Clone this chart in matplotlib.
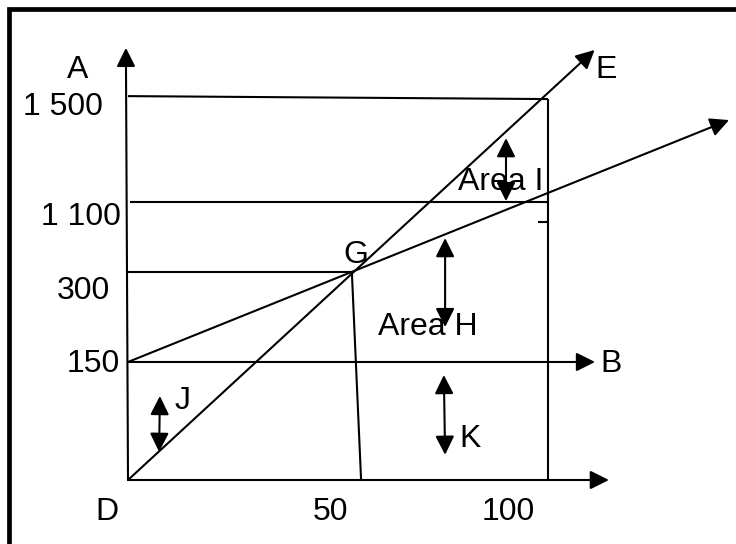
import matplotlib
matplotlib.use("Agg")
import matplotlib.pyplot as plt

# Schematic break-even chart (units are arbitrary drawing units)
plt.rcParams["font.family"] = ["Liberation Sans", "DejaVu Sans"]

# levels on the vertical axis
level_labels = ["1 500", "1 100", "300", "150"]
level_y = [91.4, 66.2, 49.5, 28.1]

# quantities on the horizontal axis
qty_labels = ["D", "50", "100"]
qty_x = [-5.0, 48.1, 90.5]

# break-even point G
g_x, g_y = 53.3, 49.5
g_foot_x = 55.5

# capacity limit
cap_x = 100
cap_top = 90.7

# revenue line (D -> E) and total cost line (150 -> G -> ...)
revenue_x = [0, 111.1]
revenue_y = [0, 102.4]
cost_x = [0, 143.1]
cost_y = [28.1, 85.7]

x_axis_end = 114.5
y_axis_top = 102.9
fixed_end = 111.2

# double arrows: (x_top, y_top, x_bottom, y_bottom)
double_arrows = {
    "I": (90.0, 81.4, 90.0, 66.4),
    "H": (75.5, 57.6, 75.5, 36.4),
    "K": (75.2, 25.0, 75.5, 6.0),
    "J": (7.6, 20.0, 7.4, 6.7),
}

# free labels
labels = {
    "A": (-11.9, 95.7),
    "E": (113.8, 95.7),
    "B": (115.0, 25.7),
    "G": (54.3, 51.7),
    "Area I": (88.8, 69.0),
    "Area H": (71.4, 34.5),
    "J": (13.1, 16.9),
    "K": (81.4, 7.9),
}
level_label_x = [-15.5, -11.2, -10.5, -8.3]
level_label_y = [86.9, 60.7, 43.1, 25.7]

fig = plt.figure(figsize=(7.36, 5.44), dpi=100)
ax = fig.add_axes([0, 0, 1, 1])
ax.set_xlim(-30.476, 144.762)
ax.set_ylim(-15.238, 114.286)
ax.axis("off")

lw = 1.5
fs = 23
kw = dict(color="black", lw=lw, solid_capstyle="butt")


def arrow(x0, y0, x1, y1, style="-|>"):
    ax.annotate("", xy=(x1, y1), xytext=(x0, y0),
                arrowprops=dict(arrowstyle=style + ",head_length=0.6,head_width=0.3",
                                mutation_scale=19, color="black", lw=lw,
                                shrinkA=0, shrinkB=0))


# frame (only top and left edges visible)
ax.plot([0.0122, 0.0122, 1.0], [0.0, 0.9835, 0.9835], transform=ax.transAxes,
        color="black", lw=3.4, clip_on=False, solid_joinstyle="miter")

# axes
arrow(0, 0, -0.5, y_axis_top)
arrow(0, 0, x_axis_end, 0)

# horizontal levels
ax.plot([0, cap_x], [level_y[0], cap_top], **kw)
ax.plot([0.5, cap_x], [level_y[1], level_y[1]], **kw)
ax.plot([0, g_x], [level_y[2], level_y[2]], **kw)
arrow(0, level_y[3], fixed_end, level_y[3])

# capacity vertical and small tick
ax.plot([cap_x, cap_x], [cap_top, 0], **kw)
ax.plot([97.6, cap_x], [61.4, 61.4], **kw)

# drop from G
ax.plot([g_x, g_foot_x], [g_y, 0], **kw)

# revenue and cost lines
arrow(revenue_x[0], revenue_y[0], revenue_x[1], revenue_y[1])
arrow(cost_x[0], cost_y[0], cost_x[1], cost_y[1])

for x0, y0, x1, y1 in double_arrows.values():
    arrow(x1, y1, x0, y0, style="<|-|>")

for lab, x, y in zip(level_labels, level_label_x, level_label_y):
    ax.text(x, y, lab, ha="center", va="baseline", fontsize=fs)
for lab, x in zip(qty_labels, qty_x):
    ax.text(x, -9.5, lab, ha="center", va="baseline", fontsize=fs)
for lab, (x, y) in labels.items():
    ax.text(x, y, lab, ha="center", va="baseline", fontsize=fs)

fig.savefig("out.png", dpi=100)
